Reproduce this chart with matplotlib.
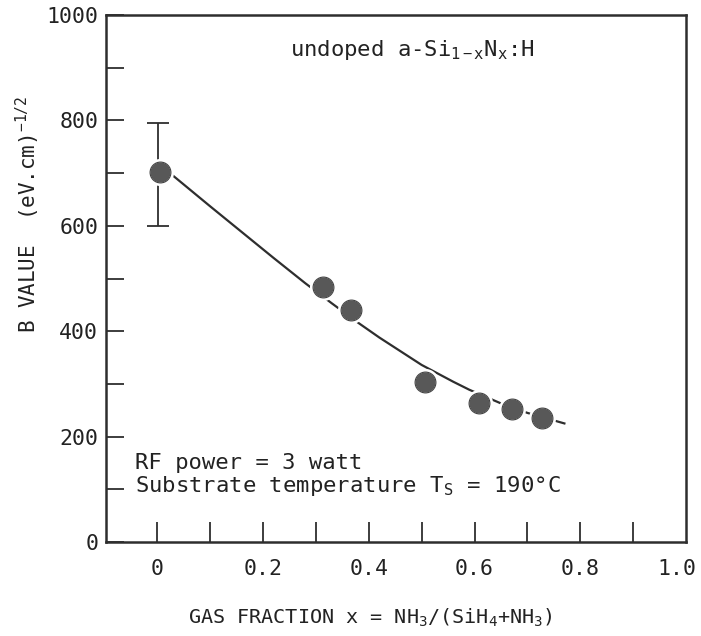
import numpy as np
import matplotlib
matplotlib.use("Agg")
import matplotlib.pyplot as plt
from matplotlib.ticker import FixedLocator

plt.rcParams['font.family'] = ['DejaVu Sans Mono', 'DejaVu Sans']
plt.rcParams['mathtext.fontset'] = 'custom'
plt.rcParams['mathtext.rm'] = 'DejaVu Sans Mono'
plt.rcParams['mathtext.it'] = 'DejaVu Sans Mono'
plt.rcParams['mathtext.bf'] = 'DejaVu Sans Mono:bold'

# ---- data ----
gas_fraction = [0.005, 0.313, 0.366, 0.506, 0.608, 0.670, 0.728]
b_value = [702, 484, 440, 304, 264, 252, 235]
err_x = [0.002]
err_y = [700]
err_lo = [100]
err_hi = [95]

fit_x = [0.03, 0.10, 0.16, 0.22, 0.28, 0.33, 0.38, 0.42, 0.46, 0.50, 0.53,
         0.56, 0.59, 0.62, 0.65, 0.70, 0.77]
fit_y = [695, 637, 588, 539, 491, 453, 416, 388, 362, 336, 320,
         304, 289, 276, 263, 245, 225]

# x tick labels (the "1.0" label sits just inside the right frame)
x_label_pos = [0, 0.2, 0.4, 0.6, 0.8, 0.983]
x_tick_labels = ['0', '0.2', '0.4', '0.6', '0.8', '1.0']
x_tick_marks = [0, 0.1, 0.2, 0.3, 0.4, 0.5, 0.6, 0.7, 0.8, 0.9]
y_tick_vals = [0, 200, 400, 600, 800, 1000]
y_tick_labels = ['0', '200', '400', '600', '800', '1000']
y_minor_vals = [100, 300, 500, 700, 900]

ink = '#2e2e2e'

fig = plt.figure(figsize=(7.01, 6.36), dpi=100)
ax = fig.add_axes([0.1512, 0.1478, 0.8274, 0.8286])

ax.plot(fit_x, fit_y, color=ink, lw=1.6, zorder=2)
ax.errorbar(err_x, err_y, yerr=[err_lo, err_hi], fmt='none', ecolor=ink,
            elinewidth=1.3, capsize=8, capthick=1.3, zorder=2)
ax.plot(gas_fraction, b_value, 'o', ms=17, mfc='#585858', mec='white',
        mew=2.5, zorder=3)
ax.plot(gas_fraction, b_value, 'o', ms=15, mfc='none', mec='#444444',
        mew=0.8, zorder=4)

ax.set_xlim(-0.097, 1.0)
ax.set_ylim(0, 1000)

ax.xaxis.remove_overlapping_locs = False
ax.xaxis.set_major_locator(FixedLocator(x_label_pos))
ax.set_xticklabels(x_tick_labels)
ax.xaxis.set_minor_locator(FixedLocator(x_tick_marks))
ax.yaxis.set_major_locator(FixedLocator(y_tick_vals))
ax.set_yticklabels(y_tick_labels)
ax.yaxis.set_minor_locator(FixedLocator(y_minor_vals))

ax.tick_params(axis='x', which='major', direction='in', length=0,
               labelsize=15.5, pad=12, labelcolor='#222222', top=False)
ax.tick_params(axis='x', which='minor', direction='in', length=14.5, width=1.3,
               color=ink, top=False)
ax.tick_params(axis='y', which='both', direction='in', length=13, width=1.3,
               color=ink, labelsize=15.5, pad=5.5, labelcolor='#222222',
               right=False)

for s in ax.spines.values():
    s.set_linewidth(1.8)
    s.set_color(ink)

txt_color = '#222222'
ax.text(0.251, 934, r"undoped a-Si$_{\rm 1-x}$N$_{\rm x}$:H", fontsize=16,
        color=txt_color, ha='left', va='center')
ax.text(-0.042, 150, "RF power = 3 watt", fontsize=16, color=txt_color,
        ha='left', va='center')
ax.text(-0.042, 95, r"Substrate temperature T$_{\rm S}$ = 190°C", fontsize=16,
        color=txt_color, ha='left', va='baseline')

fig.text(0.529, 0.020, r"GAS FRACTION x = NH$_{3}$/(SiH$_{4}$+NH$_{3}$)",
         fontsize=14.5, color=txt_color, ha='center', va='baseline')
fig.text(0.040, 0.476, r"B VALUE  (eV.cm)$^{-1/2}$", fontsize=15,
         color=txt_color, rotation=90, ha='center', va='bottom')

fig.savefig('out.png', dpi=100)
